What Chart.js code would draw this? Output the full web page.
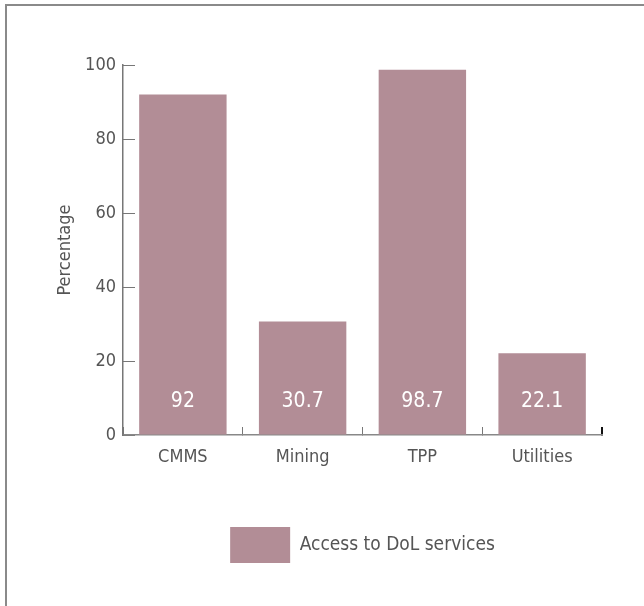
<!DOCTYPE html>
<html>
<head>
<meta charset="utf-8">
<script src="https://cdn.jsdelivr.net/npm/chart.js@4"></script>
<style>
  html, body { margin: 0; padding: 0; background: #fff; }
  #wrap { position: relative; width: 644px; height: 606px; overflow: hidden; }
  #frame { position: absolute; left: 5px; top: 4px; width: 700px; height: 700px;
           border-left: 2px solid #8a8a8a; border-top: 2px solid #8a8a8a; }
  canvas { position: absolute; left: 0; top: 0; }
</style>
</head>
<body>
<div id="wrap">
  <div id="frame"></div>
  <canvas id="accessChart" width="644" height="606"></canvas>
</div>
<script>
const sectors = ['CMMS', 'Mining', 'TPP', 'Utilities'];
const accessShare = [92, 30.7, 98.7, 22.1];
const yTicks = [0, 20, 40, 60, 80, 100];

const FONT = "'Liberation Sans Narrow', 'DejaVu Sans Condensed', 'Arial Narrow', sans-serif";
const TEXT = '#555';
const BAR = '#b28d96';

// white value printed near the foot of each bar
const valueLabels = {
    id: 'valueLabels',
    afterDatasetsDraw(chart) {
        const ctx = chart.ctx;
        const meta = chart.getDatasetMeta(0);
        ctx.save();
        ctx.fillStyle = '#fff';
        ctx.font = '21px ' + FONT;
        ctx.textAlign = 'center';
        ctx.textBaseline = 'middle';
        meta.data.forEach((bar, i) => {
            ctx.fillText(String(accessShare[i]), bar.x, bar.base - 33);
        });
        ctx.restore();
    }
};

new Chart(document.getElementById('accessChart'), {
    type: 'bar',
    data: {
        labels: sectors,
        datasets: [{
            label: 'Access to DoL services',
            data: accessShare,
            backgroundColor: BAR,
            borderWidth: 0,
            categoryPercentage: 1,
            barPercentage: 0.73,
        }],
    },
    plugins: [valueLabels],
    options: {
        responsive: false,
        animation: false,
        layout: { padding: { top: 65, right: 42, bottom: 33, left: 40 } },
        plugins: {
            tooltip: { enabled: false },
            legend: {
                position: 'bottom',
                fullSize: false,
                labels: {
                    boxWidth: 60,
                    boxHeight: 36,
                    padding: 10,
                    color: TEXT,
                    font: { family: FONT, size: 19 },
                },
            },
        },
        scales: {
            x: {
                grid: {
                    offset: true,
                    drawOnChartArea: false,
                    tickLength: -8,
                    color: c => c.type === 'scale' ? '#111' : '#777',
                    lineWidth: c => c.type === 'scale' ? 2 : 1,
                },
                border: { color: '#888', width: 1.5 },
                ticks: { color: TEXT, padding: 20, font: { family: FONT, size: 18 } },
                afterFit(scale) { scale.height = 82; },
            },
            y: {
                min: 0,
                max: 100,
                afterBuildTicks(scale) { scale.ticks = yTicks.map(v => ({ value: v })); },
                grid: { drawOnChartArea: false, tickLength: -12, color: '#777' },
                border: { color: '#777', width: 1.5 },
                ticks: { color: TEXT, padding: 19, font: { family: FONT, size: 18 } },
                title: {
                    display: true,
                    text: 'Percentage',
                    color: TEXT,
                    padding: { top: 15, bottom: 0 },
                    font: { family: FONT, size: 18 },
                },
                afterFit(scale) { scale.width = 83; },
            },
        },
    },
});
</script>
</body>
</html>
